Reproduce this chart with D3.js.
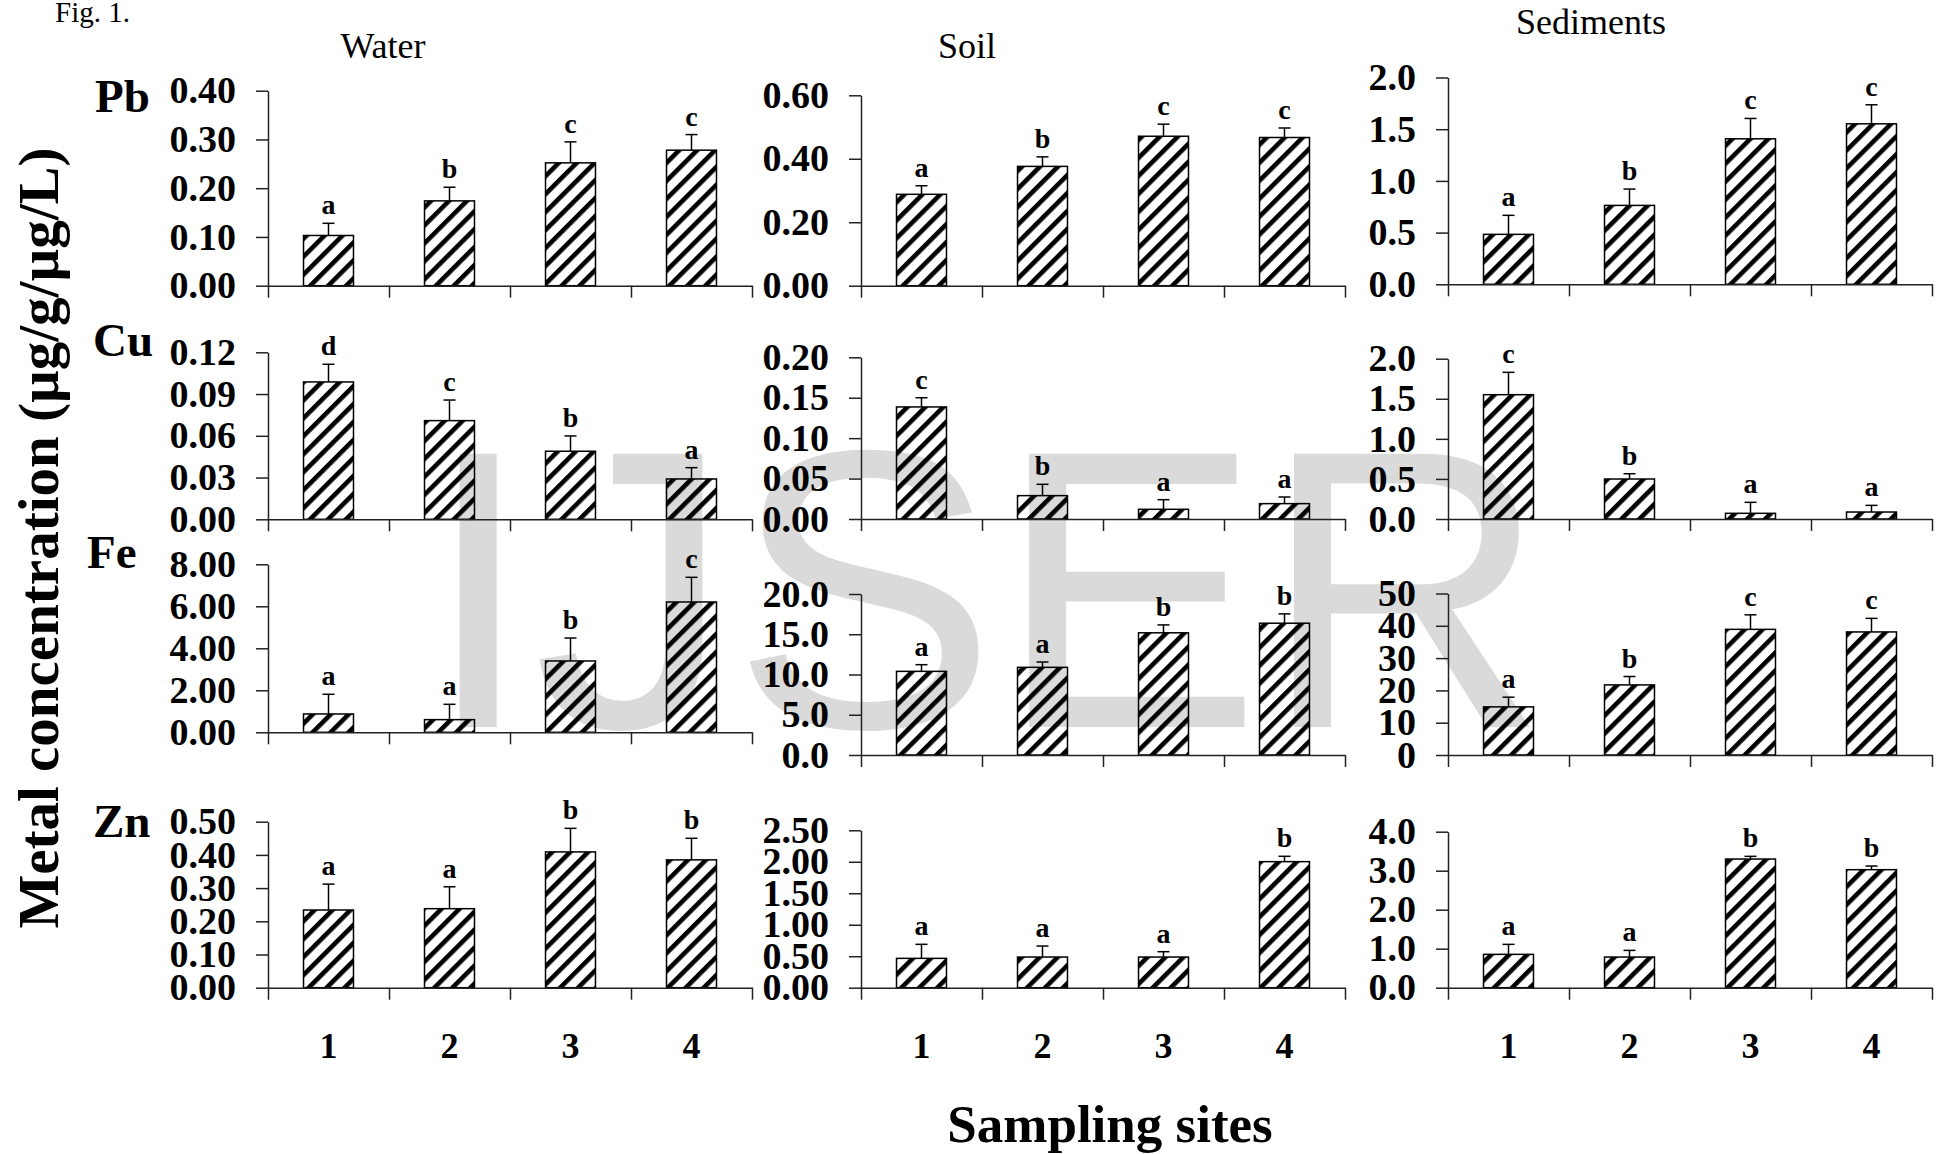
<!DOCTYPE html>
<html>
<head>
<meta charset="utf-8">
<script src="https://cdn.jsdelivr.net/npm/d3@7"></script>
<style>
  body { margin: 0; background: #fff; }
  text { font-family: 'Liberation Serif', 'Times New Roman', serif; }
</style>
</head>
<body>
<script>
const width = 1951
const height = 1154

const sites = ['1', '2', '3', '4']
const media = ['Water', 'Soil', 'Sediments']
const metals = ['Pb', 'Cu', 'Fe', 'Zn']

// each metal: [water, soil, sediments]
const pbMean = [[0.103, 0.174, 0.252, 0.278], [0.288, 0.376, 0.471, 0.467], [0.483, 0.763, 1.407, 1.552]]
const pbErr = [[0.025, 0.028, 0.043, 0.032], [0.027, 0.030, 0.038, 0.030], [0.184, 0.158, 0.197, 0.184]]
const pbLetter = [['a', 'b', 'c', 'c'], ['a', 'b', 'c', 'c'], ['a', 'b', 'c', 'c']]
const pbTicks = [['0.00', '0.10', '0.20', '0.30', '0.40'], ['0.00', '0.20', '0.40', '0.60'], ['0.0', '0.5', '1.0', '1.5', '2.0']]

const cuMean = [[0.0987, 0.0709, 0.0489, 0.0290], [0.1386, 0.0289, 0.012, 0.019], [1.551, 0.499, 0.071, 0.087]]
const cuErr = [[0.0127, 0.0148, 0.0110, 0.0081], [0.0114, 0.014, 0.0119, 0.0082], [0.279, 0.066, 0.137, 0.083]]
const cuLetter = [['d', 'c', 'b', 'a'], ['c', 'b', 'a', 'a'], ['c', 'b', 'a', 'a']]
const cuTicks = [['0.00', '0.03', '0.06', '0.09', '0.12'], ['0.00', '0.05', '0.10', '0.15', '0.20'], ['0.0', '0.5', '1.0', '1.5', '2.0']]

const feMean = [[0.873, 0.603, 3.397, 6.206], [10.39, 10.89, 15.18, 16.37], [14.9, 21.7, 38.9, 38.1]]
const feErr = [[0.937, 0.730, 1.093, 1.174], [0.83, 0.66, 0.98, 1.16], [3.0, 2.6, 4.5, 4.2]]
const feLetter = [['a', 'a', 'b', 'c'], ['a', 'a', 'b', 'b'], ['a', 'b', 'c', 'c']]
const feTicks = [['0.00', '2.00', '4.00', '6.00', '8.00'], ['0.0', '5.0', '10.0', '15.0', '20.0'], ['0', '10', '20', '30', '40', '50']]

const znMean = [[0.234, 0.238, 0.409, 0.385], [0.466, 0.487, 0.487, 2.002], [0.855, 0.786, 3.299, 3.026]]
const znErr = [[0.078, 0.066, 0.071, 0.065], [0.223, 0.175, 0.085, 0.085], [0.256, 0.171, 0.069, 0.094]]
const znLetter = [['a', 'a', 'b', 'b'], ['a', 'a', 'a', 'b'], ['a', 'a', 'b', 'b']]
const znTicks = [['0.00', '0.10', '0.20', '0.30', '0.40', '0.50'], ['0.00', '0.50', '1.00', '1.50', '2.00', '2.50'], ['0.0', '1.0', '2.0', '3.0', '4.0']]

const means = [pbMean, cuMean, feMean, znMean]
const errs = [pbErr, cuErr, feErr, znErr]
const letters = [pbLetter, cuLetter, feLetter, znLetter]
const ticks = [pbTicks, cuTicks, feTicks, znTicks]

// layout of the pasted panels
const axisX = [268, 861, 1448]
const plotW = 484
const panelTop = [[90.7, 95.3, 77.5], [352.3, 357.3, 358.7], [564.3, 594, 593.5], [821.7, 830.3, 831.7]]
const panelBottom = [[285.7, 285.7, 284.3], [519.3, 519, 519], [732.3, 755, 755], [987.7, 987.7, 987.7]]
const metalLabelPos = [[95, 112], [93, 356], [87, 568], [93, 837]]
const titlePos = [[383, 58], [967, 58], [1591, 34]]

const svg = d3.select('body').append('svg').attr('width', width).attr('height', height)

const defs = svg.append('defs')
const pat = defs.append('pattern')
  .attr('id', 'stripes')
  .attr('patternUnits', 'userSpaceOnUse')
  .attr('width', 12.7)
  .attr('height', 12.7)
  .attr('patternTransform', 'rotate(45)')
pat.append('rect').attr('x', 0).attr('y', 0).attr('width', 4.6).attr('height', 12.7).attr('fill', '#000')

// watermark sits behind everything
svg.append('text')
  .attr('x', 423)
  .attr('y', 727)
  .style('font-family', "'Liberation Sans', Arial, sans-serif")
  .style('font-size', '397px')
  .attr('fill', '#dadada')
  .text('IJSER')

svg.append('text')
  .attr('x', 55).attr('y', 22)
  .style('font-size', '29px')
  .text('Fig. 1.')

media.forEach((m, c) => {
  svg.append('text')
    .attr('x', titlePos[c][0]).attr('y', titlePos[c][1])
    .attr('text-anchor', 'middle')
    .style('font-size', '36px')
    .text(m)
})

metals.forEach((metal, r) => {
  svg.append('text')
    .attr('x', metalLabelPos[r][0]).attr('y', metalLabelPos[r][1])
    .style('font-size', '47px')
    .style('font-weight', 'bold')
    .text(metal)

  media.forEach((medium, c) => {
    const x0 = axisX[c]
    const tk = ticks[r][c]
    const y = d3.scaleLinear()
      .domain([0, +tk[tk.length - 1]])
      .range([panelBottom[r][c], panelTop[r][c]])
    const x = d3.scaleBand()
      .domain(sites)
      .range([x0, x0 + plotW])
      .paddingInner(0.587)
      .paddingOuter(0.2935)
    const xEdge = d3.scaleLinear().domain([0, 4]).range([x0, x0 + plotW])

    const g = svg.append('g').attr('class', 'panel')

    const rows = sites.map((s, i) => ({
      site: s,
      mean: means[r][c][i],
      err: errs[r][c][i],
      letter: letters[r][c][i]
    }))

    g.selectAll('rect.bar')
      .data(rows)
      .join('rect')
      .attr('class', 'bar')
      .attr('x', d => x(d.site))
      .attr('width', x.bandwidth())
      .attr('y', d => y(d.mean))
      .attr('height', d => y(0) - y(d.mean))
      .attr('fill', 'url(#stripes)')
      .attr('stroke', '#000')
      .attr('stroke-width', 1.5)

    const cx = d => x(d.site) + x.bandwidth() / 2

    g.selectAll('line.err')
      .data(rows)
      .join('line')
      .attr('class', 'err')
      .attr('x1', cx).attr('x2', cx)
      .attr('y1', d => y(d.mean))
      .attr('y2', d => y(d.mean + d.err))
      .attr('stroke', '#000')
      .attr('stroke-width', 1.5)

    g.selectAll('line.cap')
      .data(rows)
      .join('line')
      .attr('class', 'cap')
      .attr('x1', d => cx(d) - 6).attr('x2', d => cx(d) + 6)
      .attr('y1', d => y(d.mean + d.err))
      .attr('y2', d => y(d.mean + d.err))
      .attr('stroke', '#000')
      .attr('stroke-width', 1.5)

    g.selectAll('text.sig')
      .data(rows)
      .join('text')
      .attr('class', 'sig')
      .attr('x', cx)
      .attr('y', d => y(d.mean + d.err) - 9)
      .attr('text-anchor', 'middle')
      .style('font-size', '28px')
      .style('font-weight', 'bold')
      .text(d => d.letter)

    const yAxis = g.append('g')
      .attr('transform', `translate(${x0},0)`)
      .call(d3.axisLeft(y)
        .tickValues(tk.map(Number))
        .tickFormat((v, i) => tk[i])
        .tickSize(12)
        .tickSizeOuter(0)
        .tickPadding(20))
    yAxis.selectAll('text')
      .style('font-size', '38px')
      .style('font-weight', 'bold')
      .style('font-family', "'Liberation Serif', 'Times New Roman', serif")
      .attr('fill', '#000')

    g.append('g')
      .attr('transform', `translate(0,${y(0)})`)
      .call(d3.axisBottom(xEdge)
        .tickValues([0, 1, 2, 3, 4])
        .tickFormat('')
        .tickSize(12)
        .tickSizeOuter(0))

    g.selectAll('.domain, .tick line')
      .attr('stroke', '#222')
      .attr('stroke-width', 1.5)

    if (r === metals.length - 1) {
      g.selectAll('text.site')
        .data(sites)
        .join('text')
        .attr('class', 'site')
        .attr('x', s => x(s) + x.bandwidth() / 2)
        .attr('y', 1058)
        .attr('text-anchor', 'middle')
        .style('font-size', '36px')
        .style('font-weight', 'bold')
        .text(s => s)
    }
  })
})

svg.append('text')
  .attr('transform', 'translate(58,538) rotate(-90)')
  .attr('text-anchor', 'middle')
  .style('font-size', '57px')
  .style('font-weight', 'bold')
  .text('Metal concentration (µg/g/µg/L)')

svg.append('text')
  .attr('x', 1110).attr('y', 1142)
  .attr('text-anchor', 'middle')
  .style('font-size', '53px')
  .style('font-weight', 'bold')
  .text('Sampling sites')
</script>
</body>
</html>
